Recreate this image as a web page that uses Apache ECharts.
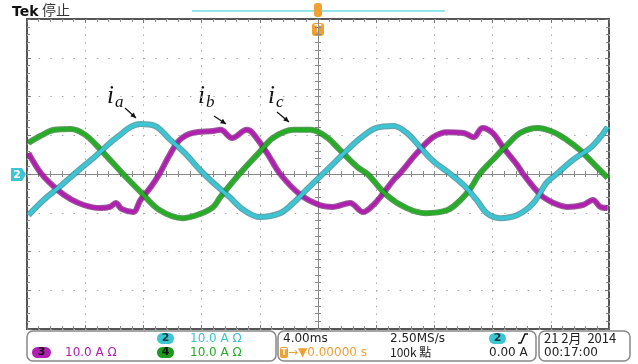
<!DOCTYPE html>
<html>
<head>
<meta charset="utf-8">
<script src="https://cdn.jsdelivr.net/npm/echarts@6/dist/echarts.min.js"></script>
<style>
  html, body { margin: 0; padding: 0; background: #fff; }
  #scope { width: 638px; height: 364px; }
</style>
</head>
<body>
<div id="scope"></div>
<script>
// time in ms relative to the trigger, current in A (10 A/div)
const ia = [[-19.9, -10.6], [-18.8, -6.5], [-17.7, -3.1], [-16.5, 0.8], [-15.3, 4.6], [-14.3, 8.0], [-13.6, 10.1], [-12.9, 12.1], [-12.2, 12.9], [-11.2, 12.4], [-10.2, 9.0], [-9.1, 5.2], [-8.1, 1.0], [-7.1, -2.6], [-6.1, -5.9], [-5.1, -9.3], [-4.0, -11.1], [-2.6, -10.1], [-1.7, -7.5], [-0.8, -4.1], [0.1, -0.8], [1.1, 2.8], [2.1, 6.5], [3.0, 9.5], [4.0, 11.9], [5.2, 12.4], [6.1, 10.6], [7.0, 7.0], [7.9, 3.4], [9.1, 0], [10.0, -2.8], [10.9, -6.7], [11.6, -10.1], [12.5, -11.4], [13.7, -10.6], [14.8, -7.5], [15.7, -2.3], [16.4, 0], [17.5, 3.6], [18.7, 6.7], [19.4, 9.5], [19.9, 12.1]];
const ib = [[-19.9, 5.4], [-19.0, 0], [-17.9, -4.1], [-17.0, -6.5], [-16.1, -8.0], [-15.0, -8.8], [-14.3, -8.5], [-13.9, -7.5], [-13.5, -9.0], [-12.7, -9.8], [-12.2, -6.7], [-11.5, -3.4], [-10.9, 0], [-10.2, 4.9], [-9.5, 8.8], [-8.6, 10.6], [-7.2, 11.1], [-6.7, 11.4], [-5.9, 9.3], [-4.9, 11.4], [-4.5, 10.6], [-3.5, 5.4], [-2.6, 0], [-1.2, -5.4], [0.1, -8.0], [1.0, -8.5], [2.2, -7.5], [3.1, -9.8], [3.8, -8.0], [4.4, -5.4], [5.2, -1.5], [5.6, 0], [6.8, 5.4], [7.9, 9.5], [8.9, 10.8], [10.0, 10.6], [10.7, 9.5], [11.3, 11.9], [12.0, 10.6], [12.7, 7.0], [13.7, 2.3], [14.1, 0], [15.3, -5.4], [16.2, -7.5], [17.1, -8.5], [18.2, -8.0], [18.9, -6.7], [19.4, -8.5], [19.9, -8.8]];
const ic = [[-19.9, 8.0], [-19.1, 9.8], [-18.1, 11.4], [-17.0, 11.6], [-16.0, 10.1], [-15.0, 6.5], [-13.4, 0], [-12.2, -4.6], [-10.9, -9.3], [-9.3, -11.4], [-8.1, -10.3], [-7.2, -8.5], [-6.7, -5.9], [-5.4, 0], [-4.0, 5.7], [-3.1, 9.3], [-1.7, 11.4], [-0.5, 11.4], [0.6, 9.5], [1.5, 6.2], [2.7, 1.8], [3.4, 0], [4.7, -5.4], [6.1, -8.8], [7.4, -10.1], [8.9, -9.3], [9.8, -6.7], [10.5, -3.6], [11.1, 0], [12.0, 3.6], [13.0, 7.5], [13.9, 10.6], [15.1, 11.9], [16.2, 10.8], [17.1, 8.8], [18.0, 6.2], [18.9, 2.8], [19.9, -1.0]];

const timeRange = [-20, 20];   // 4 ms/div
const ampRange = [-40, 40];    // 10 A/div

const CYAN = '#3cc6d4';
const MAGENTA = '#b01fb0';
const GREEN = '#26ad26';
const ORANGE = '#f0a030';
const SANS = 'DejaVu Sans';
const CJK = 'Noto Sans CJK TC';

const chart = echarts.init(document.getElementById('scope'), null, { renderer: 'canvas' });

// border axis (edge ticks) / centre axis helpers
const edgeX = (pos) => ({
  type: 'value', min: timeRange[0], max: timeRange[1], interval: 4, position: pos,
  axisLine: { show: false, onZero: false },
  axisTick: { show: true, inside: true, length: 4, lineStyle: { color: '#777' } },
  minorTick: { show: true, splitNumber: 5, length: 3, lineStyle: { color: '#888' } },
  axisLabel: { show: false },
  splitLine: { show: pos === 'bottom', lineStyle: { color: '#aaa', type: [1.5, 6.25], width: 1 } }
});
const edgeY = (pos) => ({
  type: 'value', min: ampRange[0], max: ampRange[1], interval: 10, position: pos,
  axisLine: { show: false, onZero: false },
  axisTick: { show: true, inside: true, length: 4, lineStyle: { color: '#777' } },
  minorTick: { show: true, splitNumber: 5, length: 3, lineStyle: { color: '#888' } },
  axisLabel: { show: false },
  splitLine: { show: pos === 'left', lineStyle: { color: '#aaa', type: [1.5, 10.14], width: 1 } }
});
const centreX = (inside) => ({
  type: 'value', min: timeRange[0], max: timeRange[1], interval: 4, position: 'bottom',
  axisLine: { show: true, onZero: true, lineStyle: { color: '#888', width: 1 } },
  axisTick: { show: true, inside: inside, length: 3, lineStyle: { color: '#888' } },
  minorTick: { show: true, splitNumber: 5, length: 3, lineStyle: { color: '#888' } },
  axisLabel: { show: false }, splitLine: { show: false }
});
const centreY = (inside) => ({
  type: 'value', min: ampRange[0], max: ampRange[1], interval: 10, position: 'left',
  axisLine: { show: true, onZero: true, lineStyle: { color: '#888', width: 1 } },
  axisTick: { show: true, inside: inside, length: 3, lineStyle: { color: '#888' } },
  minorTick: { show: true, splitNumber: 5, length: 3, lineStyle: { color: '#888' } },
  axisLabel: { show: false }, splitLine: { show: false }
});

// each trace: dark noisy edge underneath, bright band on top
const trace = (name, data, dark, bright) => [
  { name: name, type: 'line', data: data, smooth: 0.35, symbol: 'none', silent: true,
    lineStyle: { color: dark, width: 6, opacity: 0.7 } },
  { name: name, type: 'line', data: data, smooth: 0.35, symbol: 'none', silent: true,
    lineStyle: { color: bright, width: 3.6 } }
];

const pill = (x, y, w, label, color) => ({
  type: 'group', children: [
    { type: 'rect', shape: { x: x, y: y, width: w, height: 11, r: 5.5 }, style: { fill: color } },
    { type: 'text', x: x + w / 2, y: y + 5.5, style: { text: label, fill: color === CYAN ? '#0b3a44' : '#111', font: `bold 11px ${SANS}`, align: 'center', verticalAlign: 'middle' } }
  ]
});
const label = (x, y, text, color, font) => ({
  type: 'text', x: x, y: y, style: { text: text, fill: color, font: font || `12px ${SANS}`, verticalAlign: 'middle' }
});
const arrow = (x1, y1, x2, y2) => {
  const a = Math.atan2(y2 - y1, x2 - x1), L = 6, w = 0.45;
  return { type: 'group', children: [
    { type: 'line', shape: { x1: x1, y1: y1, x2: x2, y2: y2 }, style: { stroke: '#111', lineWidth: 1.2 } },
    { type: 'polygon', shape: { points: [[x2, y2], [x2 - L * Math.cos(a - w), y2 - L * Math.sin(a - w)], [x2 - L * Math.cos(a + w), y2 - L * Math.sin(a + w)]] }, style: { fill: '#111' } }
  ] };
};
const curLabel = (x, sub) => ({
  type: 'group', children: [
    { type: 'text', x: x, y: 84, style: { text: 'i', fill: '#111', font: 'italic 25px "Liberation Serif"' } },
    { type: 'text', x: x + 8, y: 94, style: { text: sub, fill: '#111', font: 'italic 17px "Liberation Serif"' } }
  ]
});

const option = {
  animation: false,
  backgroundColor: '#fff',
  grid: { left: 27, top: 19, right: 29, bottom: 35, show: true, borderColor: '#555', borderWidth: 2, backgroundColor: 'transparent' },
  xAxis: [edgeX('bottom'), edgeX('top'), centreX(true), centreX(false)],
  yAxis: [edgeY('left'), edgeY('right'), centreY(true), centreY(false)],
  series: [
    ...trace('ib', ib, '#6e0f6e', MAGENTA),
    ...trace('ic', ic, '#0f6e12', GREEN),
    ...trace('ia', ia, '#1d7f8c', CYAN)
  ],
  graphic: [
    // header
    { type: 'text', x: 12, y: 5, style: { text: 'Tek', fill: '#111', font: `bold 14px ${SANS}` } },
    { type: 'text', x: 42, y: 3, style: { text: '停止', fill: '#333', font: `14px "${CJK}"` } },
    { type: 'line', shape: { x1: 192, y1: 11, x2: 445, y2: 11 }, style: { stroke: '#6fdde4', lineWidth: 1.5 } },
    // trigger position markers
    { type: 'rect', shape: { x: 314, y: 3, width: 8, height: 14, r: 3 }, style: { fill: ORANGE } },
    { type: 'rect', shape: { x: 312, y: 23, width: 12, height: 13, r: 3 }, style: { fill: ORANGE } },
    { type: 'text', x: 318, y: 29.5, style: { text: 'T', fill: '#fff', font: `bold 10px ${SANS}`, align: 'center', verticalAlign: 'middle' } },
    // channel 2 ground marker
    { type: 'polygon', shape: { points: [[11, 168], [22, 168], [26, 174.5], [22, 181], [11, 181]] }, style: { fill: CYAN } },
    { type: 'text', x: 17, y: 175, style: { text: '2', fill: '#fff', font: `bold 11px ${SANS}`, align: 'center', verticalAlign: 'middle' } },
    // phase annotations
    curLabel(107, 'a'), curLabel(198, 'b'), curLabel(268, 'c'),
    arrow(125, 108, 136, 118), arrow(214, 116, 226, 124), arrow(277, 112, 289, 122),
    // readout panels
    { type: 'rect', shape: { x: 27, y: 331, width: 249, height: 30, r: 6 }, style: { fill: '#fff', stroke: '#888', lineWidth: 1.5 } },
    { type: 'rect', shape: { x: 278, y: 331, width: 258, height: 30, r: 6 }, style: { fill: '#fff', stroke: '#888', lineWidth: 1.5 } },
    { type: 'rect', shape: { x: 539, y: 331, width: 91, height: 30, r: 6 }, style: { fill: '#fff', stroke: '#888', lineWidth: 1.5 } },
    pill(157, 333, 17, '2', CYAN), label(190, 338.5, '10.0 A Ω', CYAN),
    pill(32, 347, 19, '3', MAGENTA), label(65, 352.5, '10.0 A Ω', MAGENTA),
    pill(157, 347, 17, '4', '#1c9a1c'), label(190, 352.5, '10.0 A Ω', GREEN),
    label(283, 338.5, '4.00ms', '#222'),
    label(390, 338.5, '2.50MS/s', '#222'),
    { type: 'rect', shape: { x: 280, y: 347, width: 8, height: 11, r: 2 }, style: { fill: ORANGE } },
    { type: 'text', x: 284, y: 352.5, style: { text: 'T', fill: '#fff', font: `bold 8px ${SANS}`, align: 'center', verticalAlign: 'middle' } },
    label(288, 352.5, '→▼0.00000 s', ORANGE),
    label(390, 352.5, '100k 點', '#222', `12px "${CJK}"`),
    pill(489, 333, 17, '2', CYAN),
    { type: 'polyline', shape: { points: [[518, 343], [521, 343], [525, 334], [528, 334]] }, style: { stroke: '#111', lineWidth: 1.5, fill: null } },
    label(489, 352.5, '0.00 A', '#222'),
    label(544, 338.5, '21 2月  2014', '#222', `13px "${CJK}"`),
    label(544, 352.5, '00:17:00', '#222')
  ]
};

chart.setOption(option);
window.addEventListener('resize', () => chart.resize());
</script>
</body>
</html>
